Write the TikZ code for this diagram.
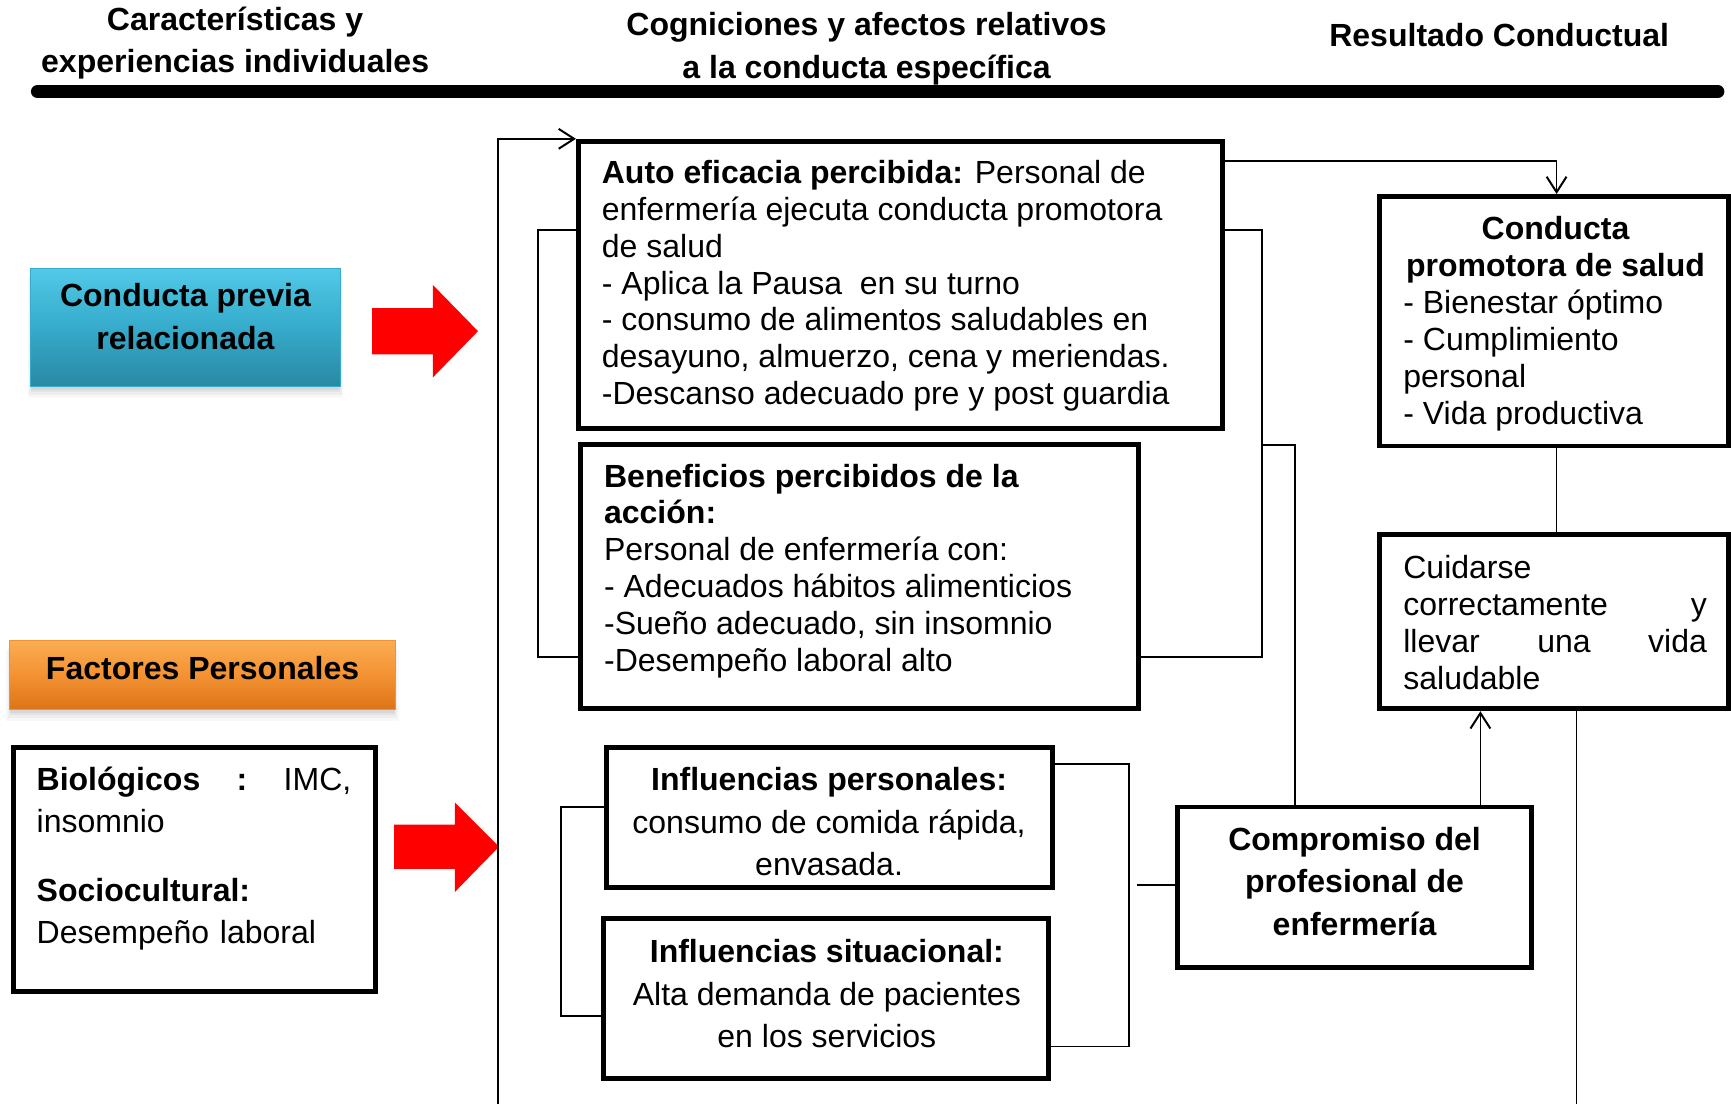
\documentclass[tikz,border=0pt]{standalone}
\usepackage{fontspec}
\setmainfont{Liberation Sans}
\usetikzlibrary{arrows.meta,shadows}
\newcommand\bodyfont{\fontsize{29}{33.4}\selectfont}
\newcommand\widefont{\fontsize{29}{38.5}\selectfont}
\newcommand\headfont{\fontsize{29}{38.5}\selectfont\bfseries}
\newcommand\tstrut{\rule{0pt}{28pt}}
\definecolor{tealtop}{HTML}{52C9E8}
\definecolor{tealmid}{HTML}{36ABCB}
\definecolor{tealbot}{HTML}{2A88A4}
\definecolor{orgtop}{HTML}{FAAD52}
\definecolor{orgmid}{HTML}{F39233}
\definecolor{orgbot}{HTML}{DD7417}
\begin{document}
\begin{tikzpicture}[x=1pt,y=-1pt,
  box/.style={draw=black, line width=4.5pt, inner sep=0pt},
  tagbox/.style={inner sep=0pt,
     drop shadow={shadow xshift=0pt, shadow yshift=-9pt, shadow scale=1.02, opacity=0.06},
     drop shadow={shadow xshift=0pt, shadow yshift=-7pt, shadow scale=1.01, opacity=0.08},
     drop shadow={shadow xshift=0pt, shadow yshift=-5pt, opacity=0.10},
     drop shadow={shadow xshift=0pt, shadow yshift=-3pt, opacity=0.12},
     draw=#1, line width=0.8pt},
  txt/.style={inner sep=0pt, anchor=north west, align=left, font=\bodyfont},
  ctxt/.style={inner sep=0pt, anchor=north, align=center, font=\widefont},
  hdr/.style={inner sep=0pt, anchor=north, align=center, font=\headfont},
  link/.style={draw=black, line width=1.6pt},
  arr/.style={link, -{Straight Barb[length=14pt,width=18pt,line width=1.8pt]}},
  redarrow/.style={fill=red, draw=none}]
\useasboundingbox (0,0) rectangle (1568,1000);

% headers
\node[hdr] (h1) at (213,-1) {\tstrut Características y\\ experiencias individuales};
\node[hdr, font=\fontsize{29}{39}\selectfont\bfseries] (h2) at (785,4) {\tstrut Cogniciones y afectos relativos\\ a la conducta específica};
\node[hdr] (h3) at (1358,14) {\tstrut Resultado Conductual};
\draw[line width=12pt, line cap=round] (34,83) -- (1556,83);

% left column
\node[tagbox=tealmid, minimum width=280pt, minimum height=107pt,
      top color=tealtop, bottom color=tealbot, middle color=tealmid] (prev) at (168,296.5) {};
\node[hdr, font=\fontsize{29}{39}\selectfont\bfseries] (prevt) at (168,249) {\tstrut Conducta previa\\ relacionada};
\node[tagbox=orgmid, minimum width=349pt, minimum height=63pt,
      top color=orgtop, bottom color=orgbot, middle color=orgmid] (fact) at (183.5,611.5) {};
\node[hdr] (factt) at (183.5,587) {\tstrut Factores Personales};
\node[box, minimum width=328pt, minimum height=221pt] (bio) at (176,787.5) {};
\node[txt, text width=285pt, font=\fontsize{29}{38}\selectfont] (biot) at (33,688)
  {\tstrut\textbf{Biológicos}\hfill\textbf{:}\hfill IMC,\\ insomnio\\[24pt]
   \textbf{Sociocultural:}\\ Desempeño laboral};

% red block arrows
\path[redarrow] (337,279) -- (392,279) -- (392,258) -- (433,300) -- (392,342) -- (392,321) -- (337,321) -- cycle;
\path[redarrow] (357,747) -- (412,747) -- (412,727) -- (452,767) -- (412,808) -- (412,787) -- (357,787) -- cycle;

% middle column
\node[box, minimum width=583pt, minimum height=260pt] (ae) at (815.5,258) {};
\node[txt] (aet) at (545,138)
  {\tstrut\textbf{Auto eficacia percibida:} Personal de\\
   enfermería ejecuta conducta promotora\\
   de salud\\
   - Aplica la Pausa\ \ en su turno\\
   - consumo de alimentos saludables en\\
   desayuno, almuerzo, cena y meriendas.\\
   -Descanso adecuado pre y post guardia};

\node[box, minimum width=505pt, minimum height=239pt] (ben) at (778.5,522.5) {};
\node[txt] (bent) at (547,413)
  {\tstrut\textbf{Beneficios percibidos de la}\\
   \textbf{acción:}\\
   Personal de enfermería con:\\
   - Adecuados hábitos alimenticios\\
   -Sueño adecuado, sin insomnio\\
   -Desempeño laboral alto};

\node[box, minimum width=404pt, minimum height=127pt] (ip) at (751,740.5) {};
\node[ctxt] (ipt) at (751,688)
  {\tstrut\textbf{Influencias personales:}\\ consumo de comida rápida,\\ envasada.};

\node[box, minimum width=403pt, minimum height=145pt] (is) at (748.5,904.5) {};
\node[ctxt] (ist) at (749,844)
  {\tstrut\textbf{Influencias situacional:}\\ Alta demanda de pacientes\\ en los servicios};

% right column
\node[box, minimum width=320pt, minimum height=145pt] (comp) at (1227,803.5) {};
\node[ctxt, font=\widefont\bfseries] (compt) at (1227,742)
  {\tstrut Compromiso del\\ profesional de\\ enfermería};

\node[box, minimum width=316pt, minimum height=226pt] (prom) at (1408,291) {};
\node[ctxt, font=\bodyfont\bfseries] (promh) at (1409,189)
  {\tstrut Conducta\\ promotora de salud};
\node[txt] (proml) at (1271,256)
  {\tstrut - Bienestar óptimo\\ - Cumplimiento\\ personal\\ - Vida productiva};

\node[box, minimum width=316pt, minimum height=158pt] (cuid) at (1408,563) {};
\node[txt, text width=275pt] (cuidt) at (1271,496)
  {\tstrut Cuidarse\\ correctamente\hfill y\\ llevar\hfill una\hfill vida\\ saludable};

% connectors
\coordinate (fbstart) at (451,1000);
\draw[arr] (fbstart) |- (ae.north west);
\draw[link] (ae.west |- 0,208) -| (487,595) -- (ben.west |- 0,595);
\draw[link] (ae.east |- 0,208) -| (1143,595) -- (ben.east |- 0,595);
\draw[link] (1143,403) -| (comp.north -| 1173,0);
\draw[arr] (ae.east |- 0,146) -| (prom.north -| 1410,0);
\draw[link] (prom.south -| 1410,0) -- (cuid.north -| 1410,0);
\draw[arr] (comp.north -| 1341,0) -- (cuid.south -| 1341,0);
\coordinate (rbend) at (1428,1000);
\draw[link] (cuid.south -| 1428,0) -- (rbend);
\draw[link] (ip.west |- 0,731) -| (508,920) -- (is.west |- 0,920);
\draw[link] (ip.east |- 0,692) -| (1023,948) -- (is.east |- 0,948);
\draw[link] (1030,802) -- (comp.west |- 0,802);
\end{tikzpicture}
\end{document}
